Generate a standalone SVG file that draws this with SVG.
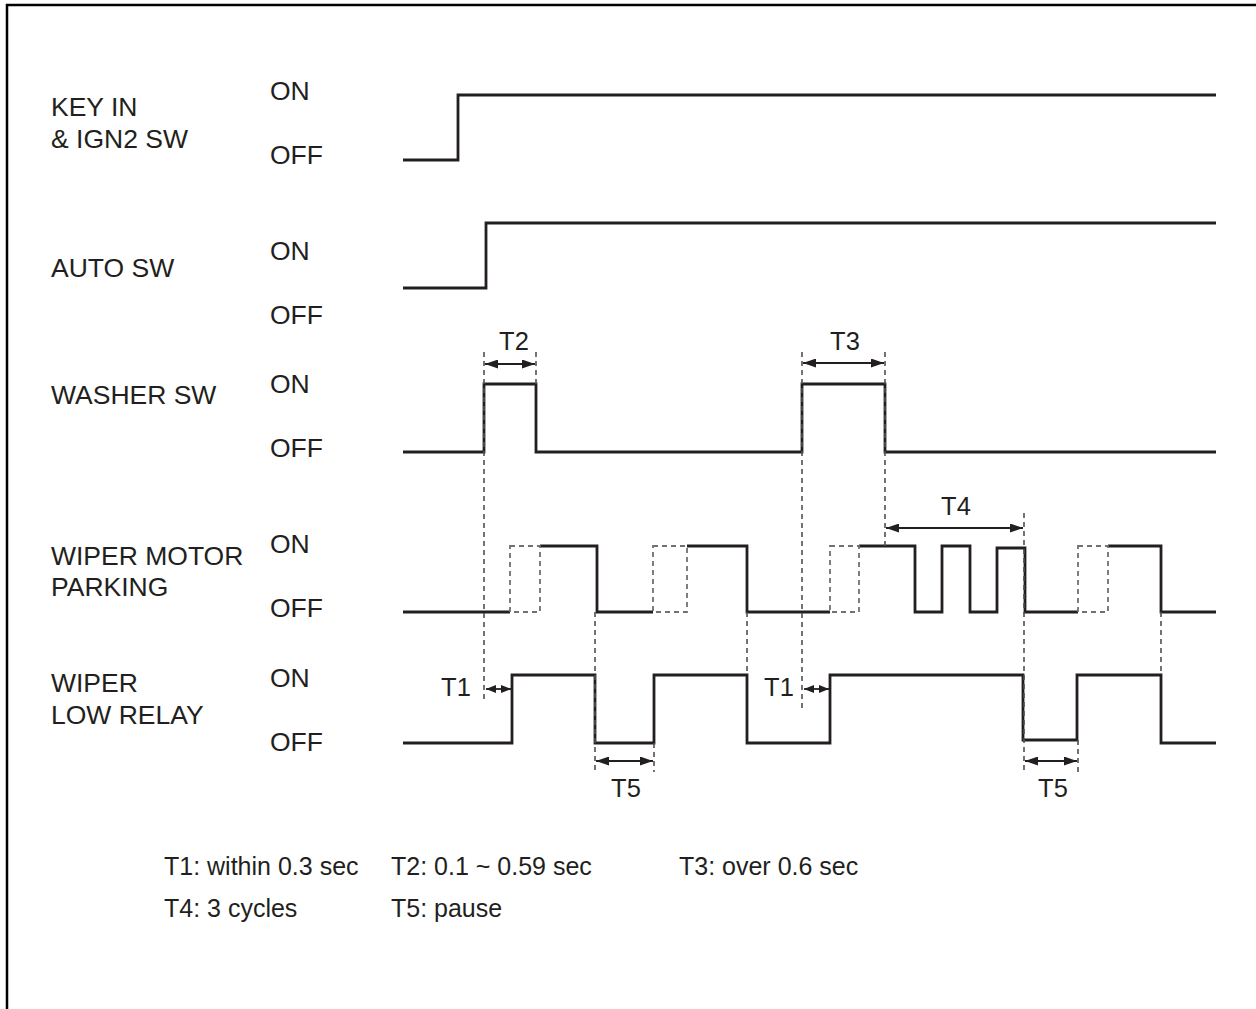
<svg xmlns="http://www.w3.org/2000/svg" width="1256" height="1009" viewBox="0 0 1256 1009">
<style>
.lbl{font-family:"Liberation Sans",Arial,sans-serif;font-size:26.5px;fill:#231f20}
.tl{font-family:"Liberation Sans",Arial,sans-serif;font-size:25.5px;fill:#231f20}
.lg{font-family:"Liberation Sans",Arial,sans-serif;font-size:25px;fill:#231f20}
.wave{fill:none;stroke:#231f20;stroke-width:2.8;stroke-linejoin:miter}
.ghost{fill:none;stroke:#707070;stroke-width:1.8;stroke-dasharray:5 4}
.guide{fill:none;stroke:#505050;stroke-width:1.6;stroke-dasharray:5 4}
.dim{fill:none;stroke:#231f20;stroke-width:1.8;marker-start:url(#ah);marker-end:url(#ah)}
.dims{fill:none;stroke:#231f20;stroke-width:1.8;marker-start:url(#ahs);marker-end:url(#ahs)}
</style>
<defs>
<marker id="ah" viewBox="0 0 13 9" refX="13" refY="4.5" markerWidth="13" markerHeight="9" markerUnits="userSpaceOnUse" orient="auto-start-reverse">
<path d="M0,0 L13,4.5 L0,9 Z" fill="#231f20"/>
</marker>
<marker id="ahs" viewBox="0 0 10 8" refX="10" refY="4" markerWidth="10" markerHeight="8" markerUnits="userSpaceOnUse" orient="auto-start-reverse">
<path d="M0,0 L10,4 L0,8 Z" fill="#231f20"/>
</marker>
</defs>
<rect width="1256" height="1009" fill="#fff"/>
<path d="M7,1009 V5 H1256" fill="none" stroke="#000" stroke-width="2.5"/>

<g id="sig-key">
<text class="lbl" x="51" y="116">KEY IN</text>
<text class="lbl" x="51" y="148">&amp; IGN2 SW</text>
<text class="lbl" x="270" y="100">ON</text>
<text class="lbl" x="270" y="164">OFF</text>
<polyline class="wave" points="403,160 458,160 458,95 1216,95"/>
</g>
<g id="sig-auto">
<text class="lbl" x="51" y="277">AUTO SW</text>
<text class="lbl" x="270" y="260">ON</text>
<text class="lbl" x="270" y="324">OFF</text>
<polyline class="wave" points="403,288 486,288 486,223 1216,223"/>
</g>
<g id="sig-washer">
<text class="lbl" x="51" y="404">WASHER SW</text>
<text class="lbl" x="270" y="393">ON</text>
<text class="lbl" x="270" y="457">OFF</text>
<polyline class="wave" points="403,452 484,452 484,384 536,384 536,452 802,452 802,384 885,384 885,452 1216,452"/>
</g>
<g id="sig-motor">
<text class="lbl" x="51" y="565">WIPER MOTOR</text>
<text class="lbl" x="51" y="596">PARKING</text>
<text class="lbl" x="270" y="553">ON</text>
<text class="lbl" x="270" y="617">OFF</text>
<polyline class="wave" points="403,612 510,612"/>
<polyline class="wave" points="540,546 597,546 597,612 653,612"/>
<polyline class="wave" points="687,546 747,546 747,612 830,612"/>
<polyline class="wave" points="859,546 915,546 915,612 942,612 942,546 970,546 970,612 997,612 997,548 1025,548 1025,612 1078,612"/>
<polyline class="wave" points="1108,546 1161,546 1161,612 1216,612"/>
<rect class="ghost" x="510" y="546" width="30" height="66"/>
<rect class="ghost" x="653" y="546" width="34" height="66"/>
<rect class="ghost" x="830" y="546" width="29" height="66"/>
<rect class="ghost" x="1078" y="546" width="30" height="66"/>
</g>
<g id="sig-relay">
<text class="lbl" x="51" y="692">WIPER</text>
<text class="lbl" x="51" y="724">LOW RELAY</text>
<text class="lbl" x="270" y="687">ON</text>
<text class="lbl" x="270" y="751">OFF</text>
<polyline class="wave" points="403,743 512,743 512,675 595,675 595,743 654,743 654,675 747,675 747,743 830,743 830,675 1023,675 1023,740 1077,740 1077,675 1161,675 1161,743 1216,743"/>
</g>

<g id="connectors">
<line class="guide" x1="484" y1="352" x2="484" y2="703"/>
<line class="guide" x1="536" y1="352" x2="536" y2="384"/>
<line class="guide" x1="802" y1="352" x2="802" y2="708"/>
<line class="guide" x1="885" y1="352" x2="885" y2="546"/>
<line class="guide" x1="595" y1="612" x2="595" y2="772"/>
<line class="guide" x1="654" y1="743" x2="654" y2="772"/>
<line class="guide" x1="747" y1="612" x2="747" y2="675"/>
<line class="guide" x1="1024" y1="513" x2="1024" y2="772"/>
<line class="guide" x1="1078" y1="740" x2="1078" y2="772"/>
<line class="guide" x1="1161" y1="612" x2="1161" y2="675"/>
<line class="dim" x1="485" y1="364" x2="535" y2="364"/>
<line class="dim" x1="803" y1="363" x2="884" y2="363"/>
<line class="dim" x1="886" y1="528" x2="1023" y2="528"/>
<line class="dims" x1="486" y1="689" x2="511" y2="689"/>
<line class="dims" x1="804" y1="689" x2="829" y2="689"/>
<line class="dim" x1="596" y1="761" x2="653" y2="761"/>
<line class="dim" x1="1025" y1="761" x2="1077" y2="761"/>
</g>

<g id="time-labels">
<text class="tl" x="514" y="350" text-anchor="middle">T2</text>
<text class="tl" x="845" y="350" text-anchor="middle">T3</text>
<text class="tl" x="956" y="515" text-anchor="middle">T4</text>
<text class="tl" x="456" y="696" text-anchor="middle">T1</text>
<text class="tl" x="779" y="696" text-anchor="middle">T1</text>
<text class="tl" x="626" y="797" text-anchor="middle">T5</text>
<text class="tl" x="1053" y="797" text-anchor="middle">T5</text>
</g>

<g id="legend">
<text class="lg" x="164" y="875">T1: within 0.3 sec</text>
<text class="lg" x="391" y="875">T2: 0.1 ~ 0.59 sec</text>
<text class="lg" x="679" y="875">T3: over 0.6 sec</text>
<text class="lg" x="164" y="917">T4: 3 cycles</text>
<text class="lg" x="391" y="917">T5: pause</text>
</g>
</svg>
